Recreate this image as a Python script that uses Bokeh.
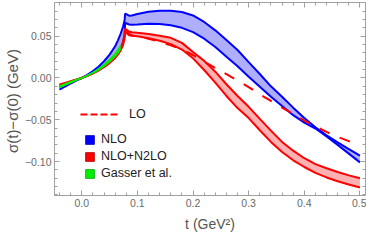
from bokeh.plotting import figure
from bokeh.models import (LinearAxis, FixedTicker, CustomJSTickFormatter, Legend, LegendItem, Range1d)
from bokeh.embed import file_html
from bokeh.resources import INLINE

NAN = float("nan")

# ---------------- data ----------------
# below threshold (t < 4 m_pi^2)
t_low = [-0.04, -0.03, -0.02, -0.01, 0.0, 0.01, 0.02, 0.03, 0.04, 0.05, 0.06, 0.065, 0.07, 0.074, 0.077, 0.078]
nlo_a_low = [-0.014, -0.0102, -0.0066, -0.0032, 0.0, 0.0037, 0.0082, 0.0135, 0.020, 0.028, 0.038, 0.045, 0.053, 0.061, 0.069, 0.077]
nlo_b_low = [-0.0105, -0.0078, -0.0052, -0.0026, 0.0, 0.0028, 0.006, 0.0098, 0.0145, 0.020, 0.027, 0.031, 0.036, 0.042, 0.052, 0.066]
n2lo_a_low = [-0.0085, -0.0064, -0.0043, -0.0021, 0.0, 0.0027, 0.0058, 0.0095, 0.0140, 0.019, 0.026, 0.030, 0.036, 0.043, 0.052, 0.059]
n2lo_b_low = [-0.0078, -0.0059, -0.004, -0.002, 0.0, 0.0025, 0.0054, 0.0088, 0.0130, 0.0178, 0.024, 0.028, 0.033, 0.039, 0.047, 0.055]

t_gl = [-0.04, -0.03, -0.02, -0.01, 0.0, 0.01, 0.02, 0.03, 0.04, 0.05, 0.06, 0.065, 0.07]
gl_a = [-0.0115, -0.0085, -0.0057, -0.0028, 0.0, 0.003, 0.0066, 0.0108, 0.016, 0.022, 0.029, 0.034, 0.039]
gl_b = [-0.0095, -0.007, -0.0046, -0.0022, 0.0, 0.0026, 0.0058, 0.0095, 0.0142, 0.0195, 0.026, 0.030, 0.035]

# above threshold
t_high = [0.078, 0.08, 0.085, 0.09, 0.1, 0.12, 0.14, 0.16, 0.18, 0.2, 0.22, 0.24, 0.26, 0.28, 0.3,
          0.32, 0.34, 0.36, 0.38, 0.4, 0.42, 0.44, 0.46, 0.48, 0.5]
nlo_a_high = [0.077, 0.0765, 0.0745, 0.0748, 0.0765, 0.0792, 0.0805, 0.0805, 0.079, 0.0748, 0.067, 0.057,
              0.0455, 0.0335, 0.019, 0.0048, -0.010, -0.0225, -0.0355, -0.048, -0.059, -0.0685, -0.077,
              -0.085, -0.093]
nlo_b_high = [0.066, 0.0655, 0.064, 0.0638, 0.064, 0.0648, 0.0645, 0.063, 0.060, 0.0548, 0.047, 0.037,
              0.0255, 0.014, 0.0015, -0.0105, -0.0225, -0.0335, -0.0445, -0.0535, -0.0605, -0.070,
              -0.080, -0.0905, -0.101]
n2lo_a_high = [0.059, 0.058, 0.0555, 0.0548, 0.054, 0.0525, 0.0505, 0.048, 0.042, 0.031, 0.0205, 0.0075,
               -0.0075, -0.0215, -0.0345, -0.049, -0.063, -0.0765, -0.087, -0.096, -0.103, -0.108,
               -0.1125, -0.1165, -0.120]
n2lo_b_high = [0.055, 0.054, 0.051, 0.0505, 0.050, 0.0475, 0.0445, 0.0405, 0.034, 0.0235, 0.0095, -0.0055,
               -0.0215, -0.036, -0.048, -0.0625, -0.0765, -0.0885, -0.0985, -0.1065, -0.1135, -0.119,
               -0.1235, -0.1275, -0.131]
lo_high = [0.058, 0.056, 0.053, 0.051, 0.050, 0.047, 0.0435, 0.039, 0.034, 0.0275, 0.0195, 0.012, 0.0045,
           -0.003, -0.011, -0.0195, -0.0275, -0.0355, -0.043, -0.051, -0.058, -0.0645, -0.0705, -0.0755, -0.080]

x_major = [0.0, 0.1, 0.2, 0.3, 0.4, 0.5]
x_minor = [round(-0.04 + 0.02 * i, 2) for i in range(28)]
y_major = [-0.10, -0.05, 0.0, 0.05]
y_minor = [round(-0.14 + 0.01 * i, 2) for i in range(24)]

# ---------------- figure ----------------
p = figure(width=366, height=234, x_range=Range1d(-0.049, 0.51), y_range=Range1d(-0.1406, 0.0903),
           output_backend="svg", toolbar_location=None,
           min_border_left=52, min_border_right=1, min_border_top=2, min_border_bottom=0)
p.outline_line_color = None
p.grid.visible = False
p.background_fill_color = "white"
p.border_fill_color = "white"

t_all = t_low + t_high
nlo_a = nlo_a_low + nlo_a_high
nlo_b = nlo_b_low + nlo_b_high
n2lo_a = n2lo_a_low + n2lo_a_high
n2lo_b = n2lo_b_low + n2lo_b_high

BLUE = "#0000ff"
RED = "#ff0000"
GREEN = "#00ee00"

p.varea(x=t_all, y1=nlo_a, y2=nlo_b, fill_color="#aeaefa")
p.line(t_all, nlo_a, line_color=BLUE, line_width=2)
p.line(t_all, nlo_b, line_color=BLUE, line_width=2)

p.varea(x=t_all, y1=n2lo_a, y2=n2lo_b, fill_color="#ffb0b0")
p.line(t_all, n2lo_a, line_color=RED, line_width=2)
p.line(t_all, n2lo_b, line_color=RED, line_width=2)

p.line(t_high, lo_high, line_color=RED, line_width=2, line_dash="11 11")

p.varea(x=t_gl, y1=gl_a, y2=gl_b, fill_color=GREEN)
p.line(t_gl, gl_a, line_color=GREEN, line_width=1.5)
p.line(t_gl, gl_b, line_color=GREEN, line_width=1.5)

# legend-only renderers (no visible data)
lo_leg = p.line([NAN], [NAN], line_color=RED, line_width=2, line_dash="7 3")
nlo_leg = p.quad(left=[NAN], right=[NAN], top=[NAN], bottom=[NAN], fill_color=BLUE, line_color="#0000aa", line_width=0.8)
n2lo_leg = p.quad(left=[NAN], right=[NAN], top=[NAN], bottom=[NAN], fill_color=RED, line_color="#aa0000", line_width=0.8)
gl_leg = p.quad(left=[NAN], right=[NAN], top=[NAN], bottom=[NAN], fill_color=GREEN, line_color="#00aa00", line_width=0.8)

FONT = "Liberation Sans"
for items, loc, gw, gh, stand, sp in [
        ([LegendItem(label="LO", renderers=[lo_leg])], (26, 74), 40, 12, 9, 0),
        ([LegendItem(label="NLO", renderers=[nlo_leg]),
          LegendItem(label="NLO+N2LO", renderers=[n2lo_leg]),
          LegendItem(label="Gasser et al.", renderers=[gl_leg])], (30, 15), 11, 11, 6, 3)]:
    lg = Legend(items=items, location=loc, glyph_width=gw, glyph_height=gh, label_height=gh,
                label_standoff=stand, spacing=sp, padding=0, margin=0,
                border_line_color=None, background_fill_alpha=0,
                label_text_font=FONT, label_text_font_size="12.5px", label_text_color="#222222")
    p.add_layout(lg, "center")

AX = "#a0a0a0"
TXT = "#6a6a6a"
xfmt = CustomJSTickFormatter(code="return (tick < 0 ? '\\u2212' : '') + Math.abs(tick).toFixed(1);")
yfmt = CustomJSTickFormatter(code="return (Math.abs(tick) < 1e-9 ? '0.00' : (tick < 0 ? '\\u2212' : '') + Math.abs(tick).toFixed(2));")
nofmt = CustomJSTickFormatter(code="return '';")


def style(ax, ticks, minors, fmt):
    ax.ticker = FixedTicker(ticks=ticks, minor_ticks=minors)
    ax.formatter = fmt
    ax.axis_line_color = AX
    ax.major_tick_line_color = AX
    ax.minor_tick_line_color = AX
    ax.major_tick_in = 5
    ax.major_tick_out = 0
    ax.minor_tick_in = 3
    ax.minor_tick_out = 0
    ax.major_label_text_font = FONT
    ax.major_label_text_font_size = "10.5px"
    ax.major_label_text_color = TXT
    ax.axis_label_text_font = FONT
    ax.axis_label_text_font_style = "normal"
    ax.axis_label_text_color = "#555555"
    ax.axis_label_text_font_size = "14px"


style(p.xaxis[0], x_major, x_minor, xfmt)
style(p.yaxis[0], y_major, y_minor, yfmt)
p.xaxis[0].axis_label = "t (GeV\u00b2)"
p.xaxis[0].major_label_standoff = 3
p.xaxis[0].axis_label_standoff = 6
p.yaxis[0].axis_label = "\u03c3(t)\u2212\u03c3(0)  (GeV)"
p.yaxis[0].axis_label_text_font_size = "15px"
p.yaxis[0].major_label_standoff = 3
p.yaxis[0].axis_label_standoff = 1

top = LinearAxis()
style(top, x_major, x_minor, nofmt)
top.major_label_standoff = 0
p.add_layout(top, "above")
right = LinearAxis()
style(right, y_major, y_minor, nofmt)
right.major_label_standoff = 0
p.add_layout(right, "right")

open("out.html", "w").write(file_html(p, INLINE))
